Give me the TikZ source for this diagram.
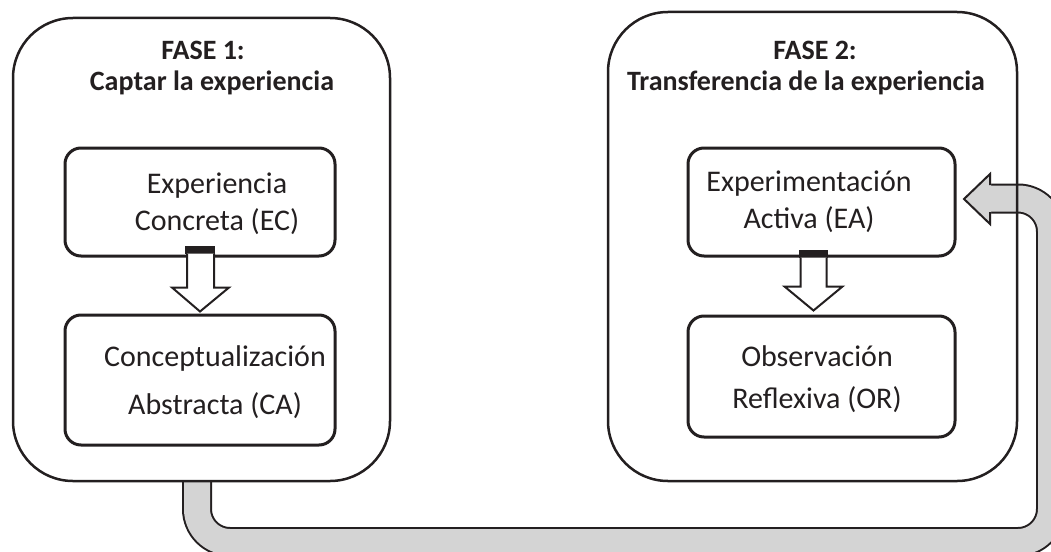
\documentclass[tikz,border=0pt]{standalone}
\usepackage{fontspec}
\setmainfont{Carlito}
\usetikzlibrary{calc}
\definecolor{ink}{HTML}{231F20}
\definecolor{bandgray}{HTML}{D4D4D4}
\begin{document}
\begin{tikzpicture}[x=1pt,y=-1pt,
  phase/.style={draw=ink,line width=2.5pt,rounded corners=60pt,inner sep=0pt},
  stepbox/.style={draw=ink,line width=3pt,rounded corners=16pt,fill=white,inner sep=0pt},
  headtxt/.style={font=\bfseries\fontsize{28}{33}\selectfont,text=ink,align=center,inner sep=0pt},
  bodytxt/.style={font=\fontsize{30}{37}\selectfont,text=ink,align=center,inner sep=0pt},
  band/.style={draw=ink,line width=2pt,double=bandgray,double distance=26pt,rounded corners=33pt},
  downarrow/.style={draw=ink,line width=2pt,fill=white,line join=miter}]
\useasboundingbox (0,0) rectangle (1051,551);
% phase frames (positions)
\coordinate (f1c) at (201.5,249.5);
\coordinate (f2c) at (812.5,246.5);
% feedback band
\draw[band] (197,481) -- (197,542) -- (1051,542) -- (1051,198.5) -- (989,198.5);
\fill[bandgray] (991,184.5) -- (991,174) -- (964,199) -- (991,224) -- (991,212.5) -- cycle;
\draw[ink,line width=2pt,line join=miter] (990,185) -- (990,174) -- (964,199) -- (990,224) -- (990,212);
% phase boxes
\node[phase,minimum width=377pt,minimum height=463pt] (f1) at (f1c) {};
\node[phase,minimum width=409pt,minimum height=469pt] (f2) at (f2c) {};
% step boxes
\node[stepbox,minimum width=270pt,minimum height=108pt] (ec) at (200,202) {};
\node[stepbox,minimum width=270pt,minimum height=130pt] (ca) at (200,380) {};
\node[stepbox,minimum width=267pt,minimum height=108pt] (ea) at (821.5,202) {};
\node[stepbox,minimum width=267pt,minimum height=121pt] (or) at (821.5,376.5) {};
% block arrows
\fill[ink] ($(ec.south)+(-15,-12)$) rectangle ($(ec.south)+(15,-4)$);
\draw[downarrow] ($(ec.south)+(-13,-4)$) -- ($(ec.south)+(-13,30)$) -- ($(ec.south)+(-28,30)$)
  -- ($(ca.north)+(0,-2)$) -- ($(ec.south)+(29,30)$) -- ($(ec.south)+(14,30)$) -- ($(ec.south)+(14,-4)$);
\fill[ink] ($(ea.south)+(-22.5,-8)$) rectangle ($(ea.south)+(6.5,0)$);
\draw[downarrow] ($(ea.south)+(-21,0)$) -- ($(ea.south)+(-21,29)$) -- ($(ea.south)+(-37,29)$)
  -- ($(or.north)+(-8,-4)$) -- ($(ea.south)+(21,29)$) -- ($(ea.south)+(5,29)$) -- ($(ea.south)+(5,0)$);
% texts
\node[headtxt] (h1a) at (203,50) {FASE 1:};
\node[headtxt] (h1b) at (212,83) {Captar la experiencia};
\node[headtxt] (h2a) at (815,50) {FASE 2:};
\node[headtxt] (h2b) at (806,83) {Transferencia de la experiencia};
\node[bodytxt] (tec) at (217,204) {Experiencia\\Concreta (EC)};
\node[bodytxt,font=\fontsize{30}{48}\selectfont] (tca) at (215,382) {Conceptualización\\Abstracta (CA)};
\node[bodytxt] (tea) at (809,202) {Experimentación\\Activa (EA)};
\node[bodytxt,font=\fontsize{30}{42}\selectfont] (tor) at (817,379) {Observación\\Reflexiva (OR)};
\end{tikzpicture}
\end{document}
